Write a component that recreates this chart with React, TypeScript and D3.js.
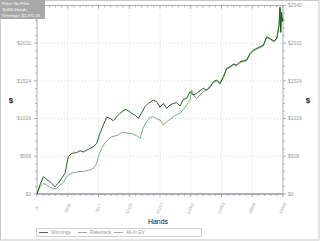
import React from "react";
import * as d3 from "d3";

const winHands = [0,372,784,1197,1610,2229,2642,3055,3467,3880,4293,4912,5325,5738,6357,6976,7389,7802,8215,8628,9040,9453,9866,10279,10898,11311,11724,12137,12550,12962,13375,13788,14407,14820,15233,15646,16059,16472,16885,17297,17710,18123,18536,18949,19362,19775,20187,20600,21013,21426,21839,22252,22665,23078,23490,23903,24316,24729,25142,25555,25968,26381,26794,27206,27619,28032,28445,28858,29350,29700,29972,30096,30180,30280,30380,30466];
const winValues = [0,121,233,198,166,99,144,211,278,503,548,557,584,566,602,638,682,817,929,1033,1019,988,1042,1087,1140,1123,1087,1064,1019,1096,1176,1221,1266,1244,1167,1221,1154,1199,1221,1230,1185,1275,1289,1378,1334,1356,1392,1423,1401,1446,1513,1536,1491,1580,1693,1715,1751,1738,1783,1796,1805,1895,1940,1962,1985,2007,2119,2097,2060,2100,2276,2519,2182,2452,2330,2371];

const evHands = [0,372,784,1197,1610,2023,2436,2849,3261,3674,4087,4500,4912,5325,5738,6151,6564,6976,7389,7596,8009,8422,8835,9247,9660,10073,10486,10898,11311,11724,12137,12550,12756,13169,13582,13995,14407,14820,15233,15646,16059,16472,16885,17297,17710,18123,18536,18949,19155,19362,19775,20187,20600,21013,21426,21839,22252,22665,23078,23490,23903,24316,24729,25142,25555,25968,26381,26794,27206,27619,28032,28445,28858,29350,29700,29972,30096,30180,30280,30380,30466];
const evValues = [0,99,144,121,90,72,76,121,153,233,269,287,296,305,301,314,323,346,413,503,615,691,736,772,781,795,835,826,817,817,795,772,745,898,974,1033,1042,1015,997,929,974,1006,1042,1069,1087,1140,1199,1266,1401,1334,1289,1334,1378,1401,1430,1500,1525,1480,1570,1680,1705,1740,1728,1770,1785,1795,1880,1928,1950,1972,1995,2105,2085,2050,2090,2260,2500,2170,2440,2320,2360];

const rakeHands = [0, 30466];
const rakeValues = [0, 0];

const xTicks = [0,3808,7617,11425,15233,19042,22850,26658,30466];
const yTicks = [0,508,1016,1524,2032,2540];
const legendItems = ["Winnings","Rakeback","All-In EV"];
const infoLines = ["Filter: No Filter","30466 Hands","Winnings: $2,371.05"];

export default function App() {
  const W = 320, H = 241;
  const L = 37, R = 283, T = 5.5, B = 194;
  const x = d3.scaleLinear().domain([0, 30466]).range([L, R]);
  const y = d3.scaleLinear().domain([0, 2540]).range([B, T]);
  const line = d3.line<[number, number]>().x(d => x(d[0])).y(d => y(d[1]));
  const win = line(winHands.map((h, i) => [h, winValues[i]]) as [number, number][]) || "";
  const ev = line(evHands.map((h, i) => [h, evValues[i]]) as [number, number][]) || "";
  const rake = line(rakeHands.map((h, i) => [h, rakeValues[i]]) as [number, number][]) || "";
  const font = "Arial, 'Liberation Sans', sans-serif";
  const minorX: number[] = [];
  for (let i = 0; i < xTicks.length - 1; i++) for (let k = 1; k < 5; k++) minorX.push(xTicks[i] + (xTicks[i + 1] - xTicks[i]) * k / 5);
  const minorY: number[] = [];
  for (let i = 0; i < yTicks.length - 1; i++) for (let k = 1; k < 5; k++) minorY.push(yTicks[i] + (yTicks[i + 1] - yTicks[i]) * k / 5);
  const axisCol = "#9a9a9a";
  const grid = "#d0d0d0";
  const legendX = [38, 77, 113];
  const topTick = yTicks[yTicks.length - 1];
  return (
    <svg width={W} height={H} style={{ position: "absolute", left: 0, top: 0 }} fontFamily={font}>
      <rect x={0} y={0} width={W} height={H} fill="#fff" />
      <rect x={0.5} y={0.5} width={W - 1.5} height={H - 1.5} fill="none" stroke="#c8c8c8" />
      {xTicks.slice(1, -1).map(t => (
        <line key={"gx" + t} x1={x(t)} x2={x(t)} y1={T} y2={B} stroke={grid} strokeWidth={0.8} strokeDasharray="1,2" />
      ))}
      {yTicks.slice(1, -1).map(t => (
        <line key={"gy" + t} x1={L} x2={R} y1={y(t)} y2={y(t)} stroke={grid} strokeWidth={0.8} strokeDasharray="1,2" />
      ))}
      <rect x={L} y={T} width={R - L} height={B - T} fill="none" stroke={axisCol} strokeWidth={0.8} />
      {xTicks.map(t => (
        <g key={"tx" + t}>
          <line x1={x(t)} x2={x(t)} y1={B} y2={B + 3} stroke={axisCol} strokeWidth={0.8} />
          <line x1={x(t)} x2={x(t)} y1={T} y2={T + 3} stroke={axisCol} strokeWidth={0.8} />
          <text transform={`translate(${x(t) + 1},${B + 15}) rotate(-65)`} textAnchor="middle" fontSize={4.3} fill="#aaa">{t}</text>
        </g>
      ))}
      {minorX.map((t, i) => (
        <g key={"mx" + i}>
          <line x1={x(t)} x2={x(t)} y1={B} y2={B + 2} stroke={axisCol} strokeWidth={0.7} />
          <line x1={x(t)} x2={x(t)} y1={T} y2={T + 2} stroke={axisCol} strokeWidth={0.7} />
        </g>
      ))}
      {yTicks.map(t => (
        <g key={"ty" + t}>
          <line x1={L - 3} x2={L} y1={y(t)} y2={y(t)} stroke={axisCol} strokeWidth={0.8} />
          <line x1={R} x2={R + 3} y1={y(t)} y2={y(t)} stroke={axisCol} strokeWidth={0.8} />
          {t !== topTick && <text x={L - 6} y={y(t) + 1.7} textAnchor="end" fontSize={5} fill="#999">${t}</text>}
          <text x={R + 5} y={y(t) + 1.7} textAnchor="start" fontSize={5} fill="#999">${t}</text>
        </g>
      ))}
      {minorY.map((t, i) => (
        <g key={"my" + i}>
          <line x1={L - 2} x2={L} y1={y(t)} y2={y(t)} stroke={axisCol} strokeWidth={0.7} />
          <line x1={R} x2={R + 2} y1={y(t)} y2={y(t)} stroke={axisCol} strokeWidth={0.7} />
        </g>
      ))}
      <path d={rake} fill="none" stroke="#8888aa" strokeWidth={1} />
      <path d={ev} fill="none" stroke="#6ea46e" strokeWidth={0.9} />
      <path d={win} fill="none" stroke="#0f520f" strokeWidth={0.9} />
      <text x={11} y={103} textAnchor="middle" fontSize={8} fontWeight="bold" fill="#222">$</text>
      <text x={308} y={103} textAnchor="middle" fontSize={8} fontWeight="bold" fill="#222">$</text>
      <text x={158} y={224} textAnchor="middle" fontSize={7} fill="#111">Hands</text>
      <rect x={36.5} y={228.5} width={165} height={8} fill="#fff" stroke="#c8c8c8" strokeWidth={0.8} />
      {legendItems.map((n, i) => (
        <g key={n}>
          <line x1={legendX[i] + 1} x2={legendX[i] + 10} y1={232.5} y2={232.5} stroke={i === 0 ? "#0f520f" : i === 1 ? "#8888aa" : "#6ea46e"} strokeWidth={0.8} />
          <text x={legendX[i] + 13} y={234.3} fontSize={4.8} fill="#999">{n}</text>
        </g>
      ))}
      <rect x={0} y={0} width={45} height={19} fill="#a8a8a8" />
      {infoLines.map((s, i) => (
        <text key={s} x={2} y={5 + i * 6} fontSize={4.2} fill="#fff">{s}</text>
      ))}
    </svg>
  );
}
